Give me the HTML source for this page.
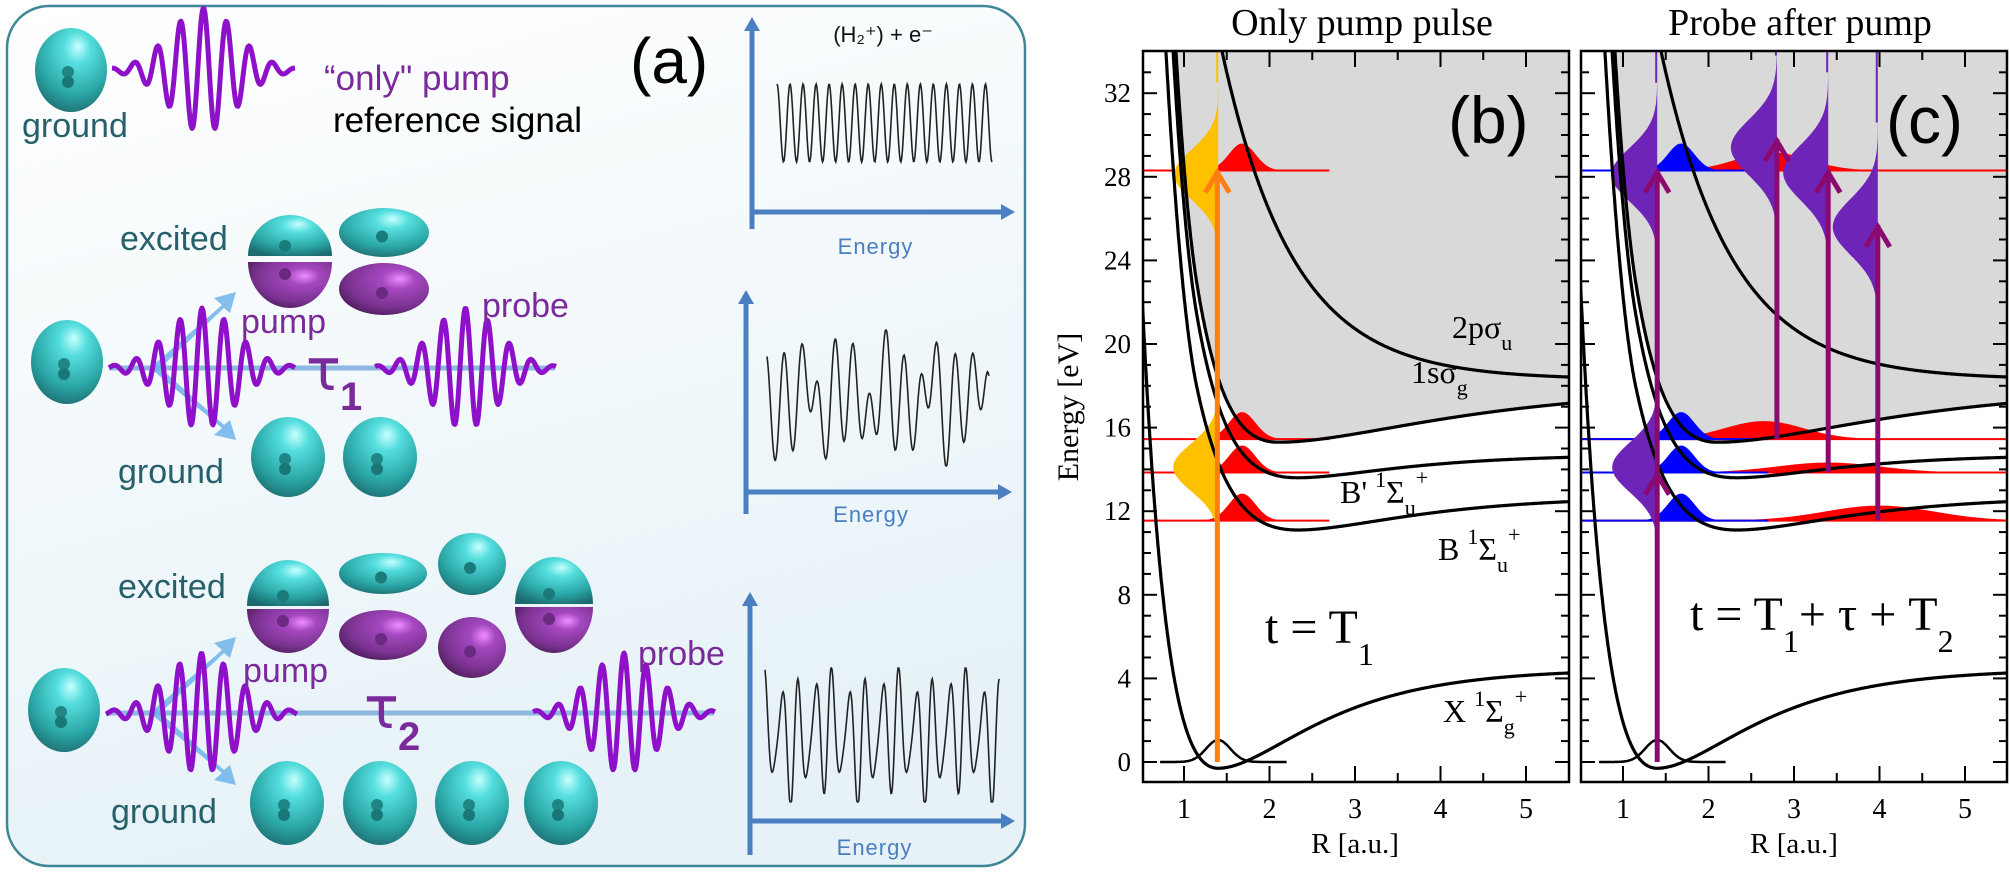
<!DOCTYPE html>
<html><head><meta charset="utf-8"><style>
html,body{margin:0;padding:0;background:#fff;width:2010px;height:875px;overflow:hidden}
svg{display:block}
.ser{font-family:"Liberation Serif",serif}
.san{font-family:"Liberation Sans",sans-serif}
</style></head><body>
<svg id="s" xmlns="http://www.w3.org/2000/svg" width="2010" height="875" viewBox="0 0 2010 875">
<defs>
<linearGradient id="bg" x1="0" y1="0" x2="0.3" y2="1"><stop offset="0" stop-color="#ffffff"/><stop offset="1" stop-color="#e6f2f7"/></linearGradient>
<radialGradient id="sph" cx="0.55" cy="0.3" r="0.75" fx="0.6" fy="0.22"><stop offset="0" stop-color="#c8ffff"/><stop offset="0.25" stop-color="#55dede"/><stop offset="0.7" stop-color="#2aa5a5"/><stop offset="1" stop-color="#1d6b6e"/></radialGradient>
<radialGradient id="pur" cx="0.6" cy="0.35" r="0.75" fx="0.68" fy="0.3"><stop offset="0" stop-color="#f08cff"/><stop offset="0.25" stop-color="#a548c0"/><stop offset="0.7" stop-color="#7a3290"/><stop offset="1" stop-color="#45184f"/></radialGradient>
<clipPath id="cb"><rect x="1143" y="51" width="425" height="731"/></clipPath>
<clipPath id="cc"><rect x="1581" y="51" width="426" height="731"/></clipPath>
</defs>
<g id="A"></g>
<g id="G"></g>
</svg>
<script>
const NS='http://www.w3.org/2000/svg';
function add(par,tag,a,txt){const e=document.createElementNS(NS,tag);for(const k in a)e.setAttribute(k,a[k]);if(txt!=null)e.textContent=txt;par.appendChild(e);return e;}
function pth(p){return 'M'+p.map(q=>q[0].toFixed(1)+','+q[1].toFixed(1)).join('L');}
const A=document.getElementById('A'),G=document.getElementById('G');
/* ---------- panel (a) ---------- */
add(A,'rect',{x:7,y:6,width:1018,height:860,rx:42,fill:'url(#bg)',stroke:'#3f8796','stroke-width':2.5});
function sphere(cx,cy,rx,ry){add(A,'ellipse',{cx,cy,rx,ry,fill:'url(#sph)'});
 add(A,'circle',{cx:cx-3,cy:cy+2,r:6,fill:'#1f8585'});add(A,'circle',{cx:cx-3,cy:cy+12,r:6,fill:'#1a7777'});}
function dome(cx,top,bot,rx,up,fill){
 const h=bot-top; let d;
 if(up) d=`M${cx-rx},${bot} A${rx},${h} 0 0 1 ${cx+rx},${bot} Z`;
 else d=`M${cx-rx},${top} A${rx},${h} 0 0 0 ${cx+rx},${top} Z`;
 add(A,'path',{d,fill});
 add(A,'circle',{cx:cx-5,cy:up?bot-10:top+12,r:6,fill:up?'#1b7a7a':'#6a2a80'});}
function oval(cx,top,bot,rx,fill,nuc){add(A,'ellipse',{cx,cy:(top+bot)/2,rx,ry:(bot-top)/2,fill});add(A,'circle',{cx:cx-2,cy:(top+bot)/2+4,r:6,fill:nuc});}
function pulse(x0,x1,cy,A0,p){const c=(x0+x1)/2,w=(x1-x0)/2*0.5;const pts=[];for(let x=x0;x<=x1;x+=1){const g=Math.exp(-Math.pow((x-c)/w,2));pts.push([x,cy-(A0*g+3*(1-g)*Math.exp(-Math.pow((x-c)/(w*1.8),2)))*Math.cos(2*Math.PI*(x-c)/p)]);}
 add(A,'path',{d:pth(pts),fill:'none',stroke:'#8e10c8','stroke-width':5,'stroke-linejoin':'round'});}
function txt(x,y,s,size,col,extra){return add(A,'text',Object.assign({x,y,'font-size':size,fill:col,'font-family':'"Liberation Sans",sans-serif'},extra||{}),s);}
sphere(71,70,36,42);
pulse(112,295,70,62,23);
txt(22,137,'ground',34,'#25606b');
txt(324,90,'“only" pump',35,'#7a2a9a');
txt(333,132,'reference signal',35,'#000');
txt(630,83,'(a)',64,'#000');
txt(120,250,'excited',34,'#25606b');
dome(290,215,256,42,true,'url(#sph)');dome(290,262,308,42,false,'url(#pur)');
oval(384,208,257,45,'url(#sph)','#1b7a7a');oval(384,263,315,45,'url(#pur)','#6a2a80');
add(A,'line',{x1:109,y1:368,x2:555,y2:368,stroke:'#8db8e0','stroke-width':5});
add(A,'path',{d:'M150,368 L222,305 L214,298 L236,292 L230,313 L224,308 L156,372 Z',fill:'#6fb3ea',opacity:0.85});
add(A,'path',{d:'M150,368 L222,428 L214,435 L236,440 L230,420 L224,425 L156,364 Z',fill:'#6fb3ea',opacity:0.85});
sphere(67,362,36,42);
pulse(109,295,368,60,22);
pulse(375,556,368,60,22);
txt(241,333,'pump',34,'#7a2a9a');txt(482,317,'probe',34,'#7a2a9a');
add(A,'text',{x:306,y:390,'font-size':58,fill:'#7a2a9a','font-family':'"DejaVu Sans",sans-serif'},'τ');
add(A,'text',{x:340,y:410,'font-size':40,'font-weight':'bold',fill:'#7a2a9a','font-family':'"Liberation Sans",sans-serif'},'1');
sphere(288,457,37,40);sphere(380,457,37,40);
txt(118,483,'ground',34,'#25606b');
txt(118,598,'excited',34,'#25606b');
dome(288,560,606,41,true,'url(#sph)');dome(288,609,653,41,false,'url(#pur)');
oval(383,553,594,44,'url(#sph)','#1b7a7a');oval(383,610,660,44,'url(#pur)','#6a2a80');
oval(472,533,595,34,'url(#sph)','#1b7a7a');oval(472,617,678,34,'url(#pur)','#6a2a80');
dome(554,557,604,39,true,'url(#sph)');dome(554,607,653,39,false,'url(#pur)');
add(A,'line',{x1:106,y1:713,x2:714,y2:713,stroke:'#8db8e0','stroke-width':5});
add(A,'path',{d:'M150,713 L222,650 L214,643 L236,637 L230,658 L224,653 L156,717 Z',fill:'#6fb3ea',opacity:0.85});
add(A,'path',{d:'M150,713 L222,773 L214,780 L236,785 L230,765 L224,770 L156,709 Z',fill:'#6fb3ea',opacity:0.85});
sphere(64,710,36,42);
pulse(106,297,713,60,22);
pulse(533,715,713,60,22);
txt(243,682,'pump',34,'#7a2a9a');txt(638,665,'probe',34,'#7a2a9a');
add(A,'text',{x:364,y:728,'font-size':58,fill:'#7a2a9a','font-family':'"DejaVu Sans",sans-serif'},'τ');
add(A,'text',{x:398,y:750,'font-size':40,'font-weight':'bold',fill:'#7a2a9a','font-family':'"Liberation Sans",sans-serif'},'2');
[287,380,472,561].forEach(x=>sphere(x,803,37,42));
txt(111,823,'ground',34,'#25606b');
function mini(ax,yt,yb,yh,xr,lab,sx0,sx1,sy0,sy1,fn){
 add(A,'line',{x1:ax,y1:yb,x2:ax,y2:yt+10,stroke:'#4a7fc1','stroke-width':5});
 add(A,'path',{d:`M${ax-8},${yt+14} L${ax},${yt} L${ax+8},${yt+14} Z`,fill:'#4a7fc1'});
 add(A,'line',{x1:ax,y1:yh,x2:xr-10,y2:yh,stroke:'#4a7fc1','stroke-width':5});
 add(A,'path',{d:`M${xr-14},${yh-8} L${xr},${yh} L${xr-14},${yh+8} Z`,fill:'#4a7fc1'});
 add(A,'text',{x:(ax+xr)/2-8,y:lab,'font-size':22,fill:'#4a7fc1','text-anchor':'middle','font-family':'"Liberation Sans",sans-serif','letter-spacing':1},'Energy');
 const pts=[];for(let x=sx0;x<=sx1;x+=0.7){const t=(x-sx0)/(sx1-sx0);pts.push([x,(sy0+sy1)/2-(sy1-sy0)/2*fn(t)]);}
 add(A,'path',{d:pth(pts),fill:'none',stroke:'#222','stroke-width':1.6});}
mini(752,17,229,212,1015,254,777,992,84,162,t=>Math.cos(2*Math.PI*16.5*t));
mini(746,290,514,492,1012,522,767,989,330,466,t=>{const v=Math.cos(2*Math.PI*13*t)*0.6+Math.cos(2*Math.PI*5.2*t+1)*0.25+Math.cos(2*Math.PI*9*t+2)*0.3;return Math.max(-1,Math.min(1,v));});
mini(750,592,855,821,1015,855,765,1000,668,802,t=>{const v=Math.cos(2*Math.PI*14*t)*0.75+Math.cos(2*Math.PI*3.5*t+0.5)*0.1+Math.cos(2*Math.PI*21*t+1)*0.25;return Math.max(-1,Math.min(1,v));});
add(A,'text',{x:883,y:42,'font-size':22,fill:'#111','text-anchor':'middle','font-family':'"Liberation Sans",sans-serif'},'(H₂⁺) + e⁻');

/* ---------- panels (b),(c) ---------- */
const Y=E=>762-20.9*E;
function morse(Emin,D,Re,al,ar,wall){return R=>{const a=R<Re?al:ar;const t=1-Math.exp(-a*(R-Re));const w=wall?40*Math.pow(Math.max(0,1.15-R),2):0;return Emin+D*t*t+w;};}
const curves=[morse(-0.3,4.75,1.4,1.3,0.95,false),morse(11.1,1.6,2.33,0.95,0.8,true),morse(13.6,1.1,2.33,1.1,0.9,true),morse(15.3,2.6,2.1,1.05,0.55,true),R=>18.3+15.8*Math.exp(-1.2*(R-1.44))];
function panel(left,ox,clip,title,lab,isC){
 const right=left+426,top=51,bot=782;const X=R=>ox+(R-1)*85.5;
 const g=add(G,'g',{'clip-path':`url(#${clip})`});
 const gp=[[left,top],[right,top]];
 for(let R=5.6;R>=0.45;R-=0.02){gp.push([X(R),Y(Math.min(34.5,curves[3](R)))]);}
 gp.push([left,Y(17.5)]);
 add(g,'path',{d:pth(gp)+'Z',fill:'#d9d9d9'});
 function hb(E,Rc,sig,h,R0,R1,col){const p=[[X(R0),Y(E)]];for(let R=R0;R<=R1;R+=0.01)p.push([X(R),Y(E)-h*Math.exp(-Math.pow((R-Rc)/sig,2))]);p.push([X(R1),Y(E)]);add(g,'path',{d:pth(p)+'Z',fill:col});}
 function vp(R,Ec,sig,amp,E0,E1,col,tail){const p=[[X(R),Y(E0)]];for(let E=E0;E<=E1;E+=0.05)p.push([X(R)-amp*Math.exp(-Math.pow((E-Ec)/sig,2)),Y(E)]);p.push([X(R),Y(E1)]);add(g,'path',{d:pth(p)+'Z',fill:col});
  if(tail)add(g,'line',{x1:X(R)-1,y1:Y(E1),x2:X(R)-1,y2:top,stroke:col,'stroke-width':2});}
 const lv=[28.3,15.45,13.85,11.55];
 if(!isC){
  lv.forEach(E=>{hb(E,1.68,0.22,27,0.4,2.7,'#ff0000');add(g,'line',{x1:left,y1:Y(E),x2:X(2.7),y2:Y(E),stroke:'#ff0000','stroke-width':2});});
  vp(1.4,28.1,1.7,44,24.3,32.5,'#ffc000',true);
  vp(1.4,14.1,1.6,45,10.3,17.8,'#ffc000',false);
 } else {
  lv.forEach(E=>add(g,'line',{x1:left,y1:Y(E),x2:right,y2:Y(E),stroke:'#ff0000','stroke-width':2}));
  hb(28.3,2.75,0.6,18,1.9,5.6,'#ff0000');hb(15.45,2.65,0.65,18,1.9,5.6,'#ff0000');
  hb(13.85,3.4,0.85,10,2.0,5.6,'#ff0000');hb(11.55,4.0,0.9,15,2.0,5.6,'#ff0000');
  lv.forEach(E=>{hb(E,1.68,0.22,27,0.4,2.1,'#0000ff');add(g,'line',{x1:left,y1:Y(E),x2:X(2.7),y2:Y(E),stroke:'#0000ff','stroke-width':2});});
  const pc='#6f24b8';
  vp(1.4,28.1,1.8,46,24.4,32.5,pc,true);
  vp(1.4,14.1,1.7,45,10.3,17.6,pc,false);
  vp(2.8,29.4,1.9,46,24.0,33.8,pc,true);
  vp(3.4,28.2,1.9,45,23.5,33.0,pc,true);
  vp(3.98,25.6,1.9,45,21.0,30.6,pc,true);
 }
 curves.forEach(f=>{const p=[];for(let R=0.4;R<=5.6;R+=0.005){const E=f(R);if(E<36)p.push([X(R),Y(E)]);}add(g,'path',{d:pth(p),fill:'none',stroke:'#000','stroke-width':3.2});});
 const wp=[];for(let R=0.72;R<=2.2;R+=0.01)wp.push([X(R),Y(0)-22*Math.exp(-Math.pow((R-1.4)/0.2,2))]);
 add(g,'path',{d:pth(wp),fill:'none',stroke:'#000','stroke-width':2.5});
 function arrow(R,E0,E1,col,heads){add(g,'line',{x1:X(R),y1:Y(E0),x2:X(R),y2:Y(E1),stroke:col,'stroke-width':5});
  heads.forEach(E=>add(g,'path',{d:`M${X(R)-12},${Y(E)+22} L${X(R)},${Y(E)+2} L${X(R)+12},${Y(E)+22}`,fill:'none',stroke:col,'stroke-width':5}));}
 if(!isC) arrow(1.39,0,28.3,'#ff7f0e',[28.3]);
 else{const ac='#8b0a72';arrow(1.4,0,28.3,ac,[28.3,13.85]);arrow(2.8,15.45,29.8,ac,[29.8]);arrow(3.4,13.85,28.3,ac,[28.3]);arrow(3.98,11.55,25.7,ac,[25.7]);}
 add(G,'rect',{x:left,y:top,width:426,height:bot-top,fill:'none',stroke:'#000','stroke-width':2.5});
 for(let e=0;e<=34;e++){const L=(e%4===0)?14:8;const y=Y(e);if(y<top+2)continue;
  add(G,'line',{x1:left,y1:y,x2:left+L,y2:y,stroke:'#000','stroke-width':2});add(G,'line',{x1:right-L,y1:y,x2:right,y2:y,stroke:'#000','stroke-width':2});}
 for(let k=1;k<=10;k++){const R=k*0.5;const x=X(R);if(x<=left+2||x>=right-2)continue;const L=(k%2===0)?16:9;
  add(G,'line',{x1:x,y1:bot,x2:x,y2:bot-L,stroke:'#000','stroke-width':2});add(G,'line',{x1:x,y1:top,x2:x,y2:top+L,stroke:'#000','stroke-width':2});}
 for(let r=1;r<=5;r++)add(G,'text',{x:X(r),y:818,'font-size':28,'text-anchor':'middle',class:'ser'},String(r));
 add(G,'text',{x:X(3),y:853,'font-size':29,'text-anchor':'middle',class:'ser'},'R [a.u.]');
 add(G,'text',{x:left+219,y:35,'font-size':38,'text-anchor':'middle',class:'ser'},title);
 add(G,'text',{x:left+305,y:143,'font-size':66,class:'san'},lab);
}
panel(1143,1184,'cb','Only pump pulse','(b)',false);
panel(1581,1623,'cc','Probe after pump','(c)',true);
for(let e=0;e<=32;e+=4)add(G,'text',{x:1131,y:Y(e)+9,'font-size':27,'text-anchor':'end',class:'ser'},String(e));
add(G,'text',{x:0,y:0,'font-size':30,'text-anchor':'middle',class:'ser',transform:'translate(1078,407) rotate(-90)'},'Energy [eV]');
function lbl(x,y,html,size){const t=add(G,'text',{x,y,'font-size':size,class:'ser'});t.innerHTML=html;}
lbl(1452,338,'2pσ<tspan dy="12" font-size="22">u</tspan>',32);
lbl(1411,383,'1sσ<tspan dy="12" font-size="22">g</tspan>',32);
lbl(1340,503,'B\' <tspan dy="-16" font-size="22">1</tspan><tspan dy="16">Σ</tspan><tspan dy="12" font-size="22">u</tspan><tspan dy="-30" font-size="22">+</tspan>',32);
lbl(1438,560,'B <tspan dy="-16" font-size="22">1</tspan><tspan dy="16">Σ</tspan><tspan dy="12" font-size="22">u</tspan><tspan dy="-30" font-size="22">+</tspan>',32);
lbl(1443,722,'X <tspan dy="-16" font-size="22">1</tspan><tspan dy="16">Σ</tspan><tspan dy="12" font-size="22">g</tspan><tspan dy="-30" font-size="22">+</tspan>',32);
lbl(1265,643,'t = T<tspan dy="22" font-size="32">1</tspan>',48);
lbl(1690,630,'t = T<tspan dy="22" font-size="32">1</tspan><tspan dy="-22">+ τ + T</tspan><tspan dy="22" font-size="32">2</tspan>',48);
</script>
</body></html>
